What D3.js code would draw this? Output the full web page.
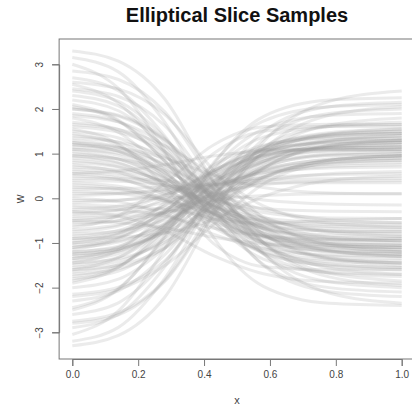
<!DOCTYPE html>
<html lang="en">
<head>
	<meta charset="UTF-8">
	<title>Elliptical Slice Samples</title>
	<script src="https://d3js.org/d3.v7.min.js"></script>
	<style>
		* { margin: 0px; padding: 0px; }
		body { background: #fff; }
		text { font-family: "Liberation Sans", Arial, sans-serif; }
	</style>
</head>
<body>
	<svg width="412" height="406"></svg>
	<script>
		var xKnots = [0, 0.14, 0.28, 0.43, 0.58, 0.78, 1.0];

		// sampled curves, w at each knot (read by eye)
		var samples = [
			[3.30, 3.07, 2.23, 0.36, -1.22, -2.12, -2.35],
			[3.15, 2.83, 1.71, -0.17, -1.50, -2.09, -2.20],
			[3.00, 2.46, 1.06, -0.89, -1.97, -2.35, -2.40],
			[2.85, 2.66, 1.94, 0.35, -0.99, -1.76, -1.95],
			[2.70, 2.41, 1.40, -0.28, -1.48, -2.00, -2.10],
			[2.55, 2.13, 1.02, -0.51, -1.36, -1.66, -1.70],
			[2.45, 2.28, 1.63, 0.21, -0.99, -1.68, -1.85],
			[2.30, 2.07, 1.26, -0.09, -1.05, -1.47, -1.55],
			[2.20, 1.96, 1.13, -0.25, -1.24, -1.67, -1.75],
			[2.10, 1.75, 0.84, -0.42, -1.12, -1.37, -1.40],
			[2.00, 1.86, 1.33, 0.18, -0.80, -1.36, -1.50],
			[1.90, 1.71, 1.05, -0.05, -0.84, -1.19, -1.25],
			[1.80, 1.48, 0.63, -0.54, -1.19, -1.42, -1.45],
			[1.70, 1.54, 0.96, -0.01, -0.69, -1.00, -1.05],
			[1.60, 1.48, 1.05, 0.09, -0.72, -1.18, -1.30],
			[1.50, 1.35, 0.84, -0.02, -0.63, -0.90, -0.95],
			[1.45, 1.19, 0.50, -0.46, -0.99, -1.17, -1.20],
			[1.40, 1.25, 0.72, -0.15, -0.78, -1.05, -1.10],
			[1.35, 1.26, 0.93, 0.21, -0.41, -0.76, -0.85],
			[1.30, 1.14, 0.58, -0.34, -1.01, -1.30, -1.35],
			[1.25, 1.05, 0.53, -0.19, -0.59, -0.73, -0.75],
			[1.20, 1.06, 0.57, -0.26, -0.84, -1.10, -1.15],
			[1.15, 1.07, 0.75, 0.06, -0.53, -0.87, -0.95],
			[1.10, 0.96, 0.47, -0.36, -0.94, -1.20, -1.25],
			[1.05, 0.88, 0.44, -0.17, -0.51, -0.63, -0.65],
			[1.00, 0.88, 0.45, -0.27, -0.78, -1.01, -1.05],
			[0.95, 0.88, 0.62, 0.04, -0.45, -0.73, -0.80],
			[0.90, 0.78, 0.36, -0.34, -0.84, -1.06, -1.10],
			[0.85, 0.71, 0.35, -0.16, -0.44, -0.54, -0.55],
			[0.80, 0.70, 0.34, -0.25, -0.68, -0.87, -0.90],
			[0.70, 0.63, 0.38, -0.18, -0.66, -0.93, -1.00],
			[0.65, 0.57, 0.29, -0.19, -0.52, -0.67, -0.70],
			[0.60, 0.51, 0.28, -0.05, -0.23, -0.29, -0.30],
			[0.50, 0.42, 0.14, -0.34, -0.67, -0.82, -0.85],
			[0.40, 0.38, 0.30, 0.11, -0.04, -0.13, -0.15],
			[0.30, 0.22, -0.06, -0.54, -0.87, -1.02, -1.05],
			[0.20, 0.22, 0.25, 0.31, 0.34, 0.35, 0.35],
			[0.15, 0.11, -0.05, -0.32, -0.50, -0.59, -0.60],
			[0.10, 0.12, 0.19, 0.33, 0.46, 0.53, 0.55],
			[0.00, -0.08, -0.35, -0.81, -1.13, -1.27, -1.30],
			[-0.10, -0.05, 0.10, 0.30, 0.41, 0.44, 0.45],
			[-0.20, -0.25, -0.40, -0.67, -0.85, -0.94, -0.95],
			[-0.30, -0.26, -0.09, 0.27, 0.58, 0.76, 0.80],
			[-0.35, -0.26, 0.06, 0.58, 0.96, 1.12, 1.15],
			[-0.40, -0.35, -0.22, -0.04, 0.06, 0.10, 0.10],
			[-0.50, -0.39, -0.01, 0.62, 1.07, 1.26, 1.30],
			[-0.55, -0.50, -0.33, 0.05, 0.37, 0.55, 0.60],
			[-0.60, -0.50, -0.17, 0.39, 0.79, 0.97, 1.00],
			[-0.70, -0.59, -0.30, 0.09, 0.31, 0.39, 0.40],
			[-0.75, -0.62, -0.16, 0.61, 1.16, 1.41, 1.45],
			[-0.80, -0.73, -0.49, 0.06, 0.52, 0.78, 0.85],
			[-0.90, -0.77, -0.33, 0.40, 0.93, 1.16, 1.20],
			[-0.95, -0.79, -0.36, 0.24, 0.57, 0.68, 0.70],
			[-1.00, -0.87, -0.43, 0.30, 0.83, 1.06, 1.10],
			[-1.05, -0.95, -0.58, 0.22, 0.91, 1.30, 1.40],
			[-1.10, -0.98, -0.56, 0.14, 0.64, 0.86, 0.90],
			[-1.15, -0.91, -0.29, 0.58, 1.06, 1.23, 1.25],
			[-1.20, -1.07, -0.61, 0.16, 0.71, 0.96, 1.00],
			[-1.25, -1.14, -0.72, 0.21, 0.99, 1.44, 1.55],
			[-1.30, -1.18, -0.75, -0.03, 0.48, 0.71, 0.75],
			[-1.35, -1.10, -0.45, 0.45, 0.95, 1.13, 1.15],
			[-1.40, -1.24, -0.66, 0.31, 0.99, 1.30, 1.35],
			[-1.45, -1.35, -0.99, -0.20, 0.47, 0.85, 0.95],
			[-1.50, -1.32, -0.69, 0.36, 1.11, 1.44, 1.50],
			[-1.60, -1.33, -0.63, 0.34, 0.88, 1.07, 1.10],
			[-1.65, -1.48, -0.88, 0.12, 0.83, 1.14, 1.20],
			[-1.70, -1.58, -1.11, -0.09, 0.78, 1.28, 1.40],
			[-1.80, -1.63, -1.03, -0.03, 0.68, 0.99, 1.05],
			[-1.90, -1.55, -0.62, 0.66, 1.37, 1.61, 1.65],
			[-2.00, -1.81, -1.12, 0.02, 0.83, 1.19, 1.25],
			[-2.15, -1.99, -1.40, -0.10, 1.01, 1.64, 1.80],
			[-2.30, -2.07, -1.27, 0.06, 1.01, 1.42, 1.50],
			[-2.45, -2.02, -0.88, 0.68, 1.55, 1.86, 1.90],
			[-2.60, -2.34, -1.44, 0.07, 1.14, 1.61, 1.70],
			[-2.75, -2.56, -1.84, -0.25, 1.09, 1.86, 2.05],
			[-2.90, -2.60, -1.54, 0.23, 1.49, 2.05, 2.15],
			[-3.05, -2.52, -1.14, 0.77, 1.83, 2.20, 2.25],
			[-3.20, -2.89, -1.80, 0.02, 1.32, 1.90, 2.00],
			[-3.30, -3.07, -2.22, -0.34, 1.26, 2.17, 2.40],
			[2.00, 1.84, 1.31, 0.35, -0.63, -1.17, -1.30],
			[1.55, 1.21, 0.27, -1.02, -1.53, -1.60, -1.60],
			[1.25, 1.14, 0.77, 0.08, -0.80, -1.33, -1.45],
			[1.10, 1.01, 0.66, -0.01, -0.32, -0.44, -0.45],
			[0.95, 0.80, 0.28, -0.60, -1.23, -1.50, -1.55],
			[0.75, 0.59, 0.20, -0.35, -0.86, -1.14, -1.20],
			[0.55, 0.45, 0.08, -0.47, -0.56, -0.49, -0.45],
			[0.45, 0.44, 0.40, 0.12, -0.53, -1.01, -1.15],
			[0.25, 0.19, -0.02, -0.37, -0.62, -0.73, -0.75],
			[0.05, 0.10, 0.17, 0.30, 0.64, 0.88, 0.95],
			[-0.05, -0.04, 0.01, 0.04, -0.25, -0.48, -0.55],
			[-0.25, -0.18, 0.07, 0.63, 1.11, 1.38, 1.45],
			[-0.45, -0.42, -0.32, -0.08, 0.47, 0.85, 0.95],
			[-0.65, -0.39, 0.33, 1.20, 1.60, 1.66, 1.65],
			[-0.85, -0.72, -0.27, 0.48, 1.02, 1.26, 1.30],
			[-0.90, -0.87, -0.78, -0.47, 0.04, 0.40, 0.50],
			[-1.00, -0.80, -0.10, 1.01, 1.50, 1.61, 1.60],
			[-1.10, -0.88, -0.29, 0.52, 0.97, 1.13, 1.15],
			[-1.20, -1.10, -0.78, -0.15, 0.68, 1.18, 1.30],
			[-1.25, -1.14, -0.70, 0.14, 0.61, 0.81, 0.85],
			[-1.35, -1.18, -0.59, 0.39, 1.09, 1.39, 1.45],
			[-1.45, -1.16, -0.35, 0.75, 1.09, 1.09, 1.05],
			[-1.55, -1.41, -0.94, -0.11, 0.71, 1.15, 1.25],
			[-1.60, -1.50, -1.12, -0.27, 0.44, 0.85, 0.95],
			[-1.75, -1.52, -0.71, 0.57, 1.19, 1.35, 1.35],
			[-1.85, -1.54, -0.78, 0.30, 1.10, 1.47, 1.55],
			[-0.15, -0.18, -0.25, -0.46, -0.98, -1.35, -1.45],
			[0.35, 0.27, -0.02, -0.66, -1.21, -1.52, -1.60],
			[-0.50, -0.54, -0.66, -0.87, -1.02, -1.09, -1.10],
			[0.55, 0.61, 0.75, 0.95, 1.06, 1.09, 1.10],
			[1.65, 1.54, 1.18, 0.52, -0.17, -0.56, -0.65],
			[1.85, 1.71, 1.18, 0.00, -0.99, -1.56, -1.70],
			[2.05, 1.73, 0.84, -0.37, -0.84, -0.92, -0.90],
			[2.40, 2.17, 1.36, -0.03, -1.25, -1.87, -2.00],
			[2.60, 2.45, 1.88, 0.62, -0.44, -1.05, -1.20],
			[-2.20, -2.04, -1.51, -0.58, 0.32, 0.80, 0.90],
			[-2.50, -2.04, -0.84, 0.81, 1.73, 2.05, 2.10],
			[-2.80, -2.61, -1.87, -0.37, 0.66, 1.18, 1.30],
			[1.20, 1.13, 0.90, 0.52, 0.24, 0.12, 0.10],
			[-0.30, -0.40, -0.73, -1.29, -1.69, -1.87, -1.90]
		];

		var xTicks = [0, 0.2, 0.4, 0.6, 0.8, 1.0];
		var yTicks = [-3, -2, -1, 0, 1, 2, 3];

		var svg = d3.select("svg");

		var x = d3.scaleLinear().domain([0, 1]).range([72.3, 401.7]);
		var y = d3.scaleLinear().domain([-3, 3]).range([332.3, 64.3]);

		var boxLeft = x(-0.04), boxRight = x(1.04), boxTop = 39, boxBottom = 359;

		svg.append("rect")
			.attr("width", 412).attr("height", 406)
			.attr("fill", "#fff");

		var line = d3.line()
			.x(function (d, i) { return x(xKnots[i]); })
			.y(function (d) { return y(d); })
			.curve(d3.curveMonotoneX);

		svg.append("g")
			.selectAll("path")
			.data(samples)
			.enter()
			.append("path")
			.attr("d", line)
			.attr("fill", "none")
			.attr("stroke", "#999")
			.attr("stroke-opacity", 0.2)
			.attr("stroke-width", 3);

		// box
		svg.append("rect")
			.attr("x", boxLeft).attr("y", boxTop)
			.attr("width", boxRight - boxLeft).attr("height", boxBottom - boxTop)
			.attr("fill", "none")
			.attr("stroke", "#777")
			.attr("stroke-width", 1);

		// x axis
		var xAxis = svg.append("g")
			.attr("transform", "translate(0," + boxBottom + ")")
			.call(d3.axisBottom(x).tickValues(xTicks).tickFormat(d3.format(".1f")).tickSizeOuter(0).tickSize(7).tickPadding(5));
		xAxis.select(".domain").attr("stroke", "#777");
		xAxis.selectAll(".tick line").attr("stroke", "#777");
		xAxis.selectAll("text")
			.attr("fill", "#444")
			.style("font-size", "10px")
			.style("font-family", "Liberation Sans, Arial, sans-serif");

		// y axis, labels turned like base R
		var yAxis = svg.append("g")
			.attr("transform", "translate(" + boxLeft + ",0)")
			.call(d3.axisLeft(y).tickValues(yTicks).tickSizeOuter(0).tickSize(7).tickFormat(d3.format("d")));
		yAxis.select(".domain").attr("stroke", "#777");
		yAxis.selectAll(".tick line").attr("stroke", "#777");
		yAxis.selectAll("text")
			.attr("fill", "#444")
			.attr("x", null).attr("dy", null)
			.attr("text-anchor", "middle")
			.attr("transform", "translate(-16,0) rotate(-90)")
			.style("font-size", "10px")
			.style("font-family", "Liberation Sans, Arial, sans-serif");

		svg.append("text")
			.attr("x", (boxLeft + boxRight) / 2).attr("y", 22)
			.attr("text-anchor", "middle")
			.style("font-size", "20px")
			.style("font-weight", "bold")
			.attr("fill", "#111")
			.text("Elliptical Slice Samples");

		svg.append("text")
			.attr("x", (boxLeft + boxRight) / 2).attr("y", 404)
			.attr("text-anchor", "middle")
			.style("font-size", "11px")
			.attr("fill", "#444")
			.text("x");

		svg.append("text")
			.attr("transform", "translate(24," + ((boxTop + boxBottom) / 2) + ") rotate(-90)")
			.attr("text-anchor", "middle")
			.style("font-size", "12px")
			.attr("fill", "#444")
			.text("w");
	</script>
</body>
</html>
